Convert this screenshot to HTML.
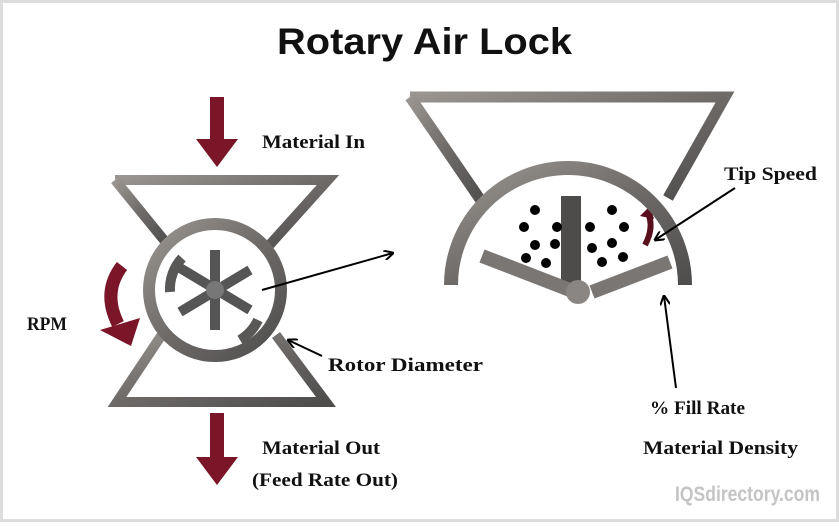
<!DOCTYPE html><html><head><style>body{margin:0;width:839px;height:522px;overflow:hidden;background:#fff}</style></head><body>
<svg width="839" height="522" viewBox="0 0 839 522" xmlns="http://www.w3.org/2000/svg">
<defs><linearGradient id="m" x1="0" y1="0" x2="1" y2="1"><stop offset="0" stop-color="#9a9590"/><stop offset="0.5" stop-color="#6d6a68"/><stop offset="1" stop-color="#4f4d4c"/></linearGradient>
<marker id="a" markerWidth="10" markerHeight="10" refX="9" refY="5" orient="auto" markerUnits="userSpaceOnUse"><path d="M0,0 L10,5 L0,10" fill="none" stroke="#000" stroke-width="2"/></marker></defs>
<rect x="1.5" y="1.5" width="836" height="519" fill="none" stroke="#ddd" stroke-width="3"/>
<text x="277" y="54" textLength="295" lengthAdjust="spacingAndGlyphs" font-family="Liberation Sans,sans-serif" font-weight="bold" font-size="37" fill="#111">Rotary Air Lock</text>
<g font-family="Liberation Serif,serif" font-weight="bold" font-size="19" fill="#111">
<text x="262" y="148" textLength="103" lengthAdjust="spacingAndGlyphs">Material In</text>
<text x="27" y="330" textLength="40" lengthAdjust="spacingAndGlyphs">RPM</text>
<text x="328" y="371" textLength="155" lengthAdjust="spacingAndGlyphs">Rotor Diameter</text>
<text x="262" y="454" textLength="118" lengthAdjust="spacingAndGlyphs">Material Out</text>
<text x="252" y="486" textLength="146" lengthAdjust="spacingAndGlyphs">(Feed Rate Out)</text>
<text x="724" y="180" textLength="93" lengthAdjust="spacingAndGlyphs">Tip Speed</text>
<text x="650" y="414" textLength="95" lengthAdjust="spacingAndGlyphs">% Fill Rate</text>
<text x="643" y="454" textLength="155" lengthAdjust="spacingAndGlyphs">Material Density</text></g>
<text x="675" y="501" textLength="145" lengthAdjust="spacingAndGlyphs" font-family="Liberation Sans,sans-serif" font-weight="bold" font-size="21" fill="#c4c4c4">IQSdirectory.com</text>
<g fill="#7a1628"><path d="M210,97h14v42h14l-21,28l-21,-28h14z"/><path d="M210,413h14v44h14l-21,28l-21,-28h14z"/>
<path d="M100,330 L140,318 L131,346z"/></g>
<path d="M122,266 Q102,292 118,324" stroke="#7a1628" stroke-width="13" fill="none"/>
<path d="M645,245 C652,232 652,222 648,213" stroke="#5a0f1e" stroke-width="6" fill="none"/><path d="M640,216 l10,-10 l4,13z" fill="#5a0f1e"/>
<g fill="none" stroke="url(#m)" stroke-width="10" stroke-linejoin="miter">
<path d="M115,180 H328 L265,250"/><path d="M115,180 L168,245"/>
<path d="M165,330 L117,402 H326 L276,335"/>
<circle cx="215" cy="290" r="66" stroke-width="12"/>
</g>
<g stroke="#5a5856" stroke-width="10" fill="none"><path d="M182,258 A46,46 0 0,0 170,292"/><path d="M258,320 A46,46 0 0,1 240,340"/></g>
<g stroke="#555" stroke-width="10"><line x1="215" y1="250" x2="215" y2="330"/><line x1="180" y1="312" x2="250" y2="270"/><line x1="180" y1="268" x2="250" y2="310"/></g>
<circle cx="215" cy="290" r="9" fill="#777"/>
<line x1="262" y1="290" x2="393" y2="253" stroke="#000" stroke-width="2" marker-end="url(#a)"/>
<line x1="322" y1="356" x2="288" y2="340" stroke="#000" stroke-width="2" marker-end="url(#a)"/>
<g fill="none" stroke="url(#m)" stroke-width="11">
<path d="M410,97 H725 L668,198"/><path d="M410,97 L484,205"/>
<path d="M451,285 A117,117 0 0,1 685,285" stroke-width="14"/></g>
<rect x="561" y="196" width="20" height="92" fill="#4e4c4b"/>
<g stroke="#7a7674" stroke-width="14"><line x1="482" y1="256" x2="570" y2="290"/><line x1="592" y1="292" x2="670" y2="262"/></g>
<circle cx="578" cy="292" r="12" fill="#8a8683"/>
<g fill="#000"><circle cx="535" cy="210" r="5"/><circle cx="524" cy="227" r="5"/><circle cx="557" cy="227" r="5"/><circle cx="535" cy="245" r="5"/><circle cx="555" cy="244" r="5"/><circle cx="526" cy="258" r="5"/><circle cx="546" cy="263" r="5"/>
<circle cx="612" cy="210" r="5"/><circle cx="590" cy="227" r="5"/><circle cx="624" cy="227" r="5"/><circle cx="592" cy="248" r="5"/><circle cx="612" cy="243" r="5"/><circle cx="602" cy="262" r="5"/><circle cx="623" cy="257" r="5"/></g>
<line x1="735" y1="188" x2="655" y2="240" stroke="#000" stroke-width="2" marker-end="url(#a)"/>
<line x1="676" y1="388" x2="664" y2="296" stroke="#000" stroke-width="2" marker-end="url(#a)"/>
</svg></body></html>
